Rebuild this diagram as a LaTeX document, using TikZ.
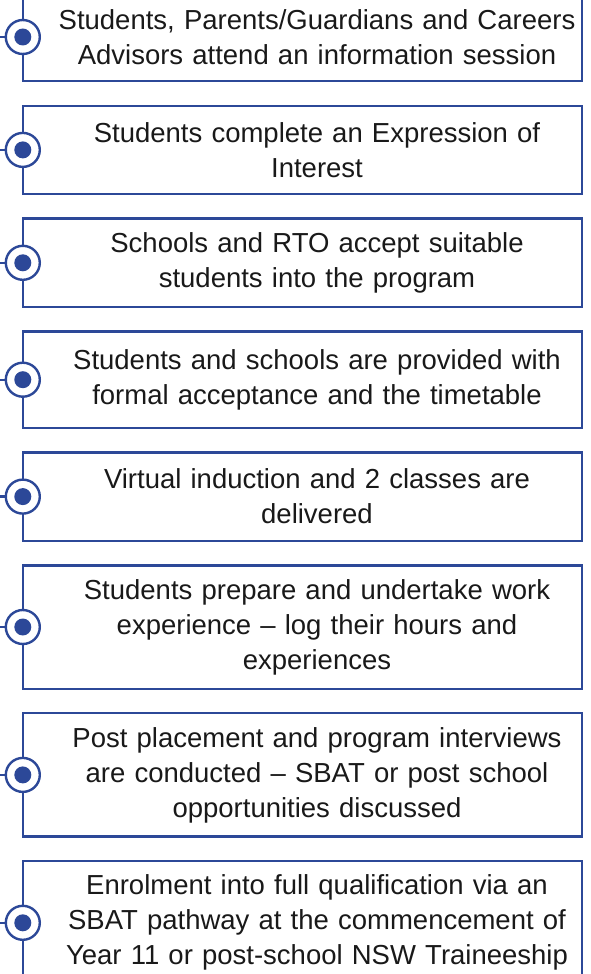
\documentclass[tikz,border=0pt]{standalone}
\usepackage{fontspec}
\setmainfont{Liberation Sans}
\usepackage{xcolor}
\usetikzlibrary{positioning}
\definecolor{stepblue}{RGB}{44,72,152}
\tikzset{
    stepbox/.style={text width=530pt,minimum height=88pt,inner sep=0pt,align=center,
        font=\fontsize{27.5}{35}\selectfont,text=black!90},
    frame/.style={draw=stepblue,line width=2.4pt},
    ring/.style={circle,draw=stepblue,fill=white,line width=2.4pt,minimum size=34pt,inner sep=0pt},
    dot/.style={circle,fill=stepblue,minimum size=17pt,inner sep=0pt}
}
\begin{document}
\begin{tikzpicture}
  \useasboundingbox (0pt,0pt) rectangle (590pt,-974pt);
  \node[stepbox] (s1) at (317pt,-37pt) {Students, Parents/Guardians and Careers\\Advisors attend an information session};
  \node[stepbox,below=24.5pt of s1] (s2) {Students complete an Expression of\\Interest};
  \node[stepbox,below=24.5pt of s2] (s3) {Schools and RTO accept suitable\\students into the program};
  \node[stepbox,minimum height=96pt,below=24.5pt of s3] (s4) {Students and schools are provided with\\formal acceptance and the timetable};
  \node[stepbox,below=24.5pt of s4] (s5) {Virtual induction and 2 classes are\\delivered};
  \node[stepbox,minimum height=123pt,below=24.5pt of s5] (s6) {Students prepare and undertake work\\experience -- log their hours and\\experiences};
  \node[stepbox,minimum height=123pt,below=24.5pt of s6] (s7) {Post placement and program interviews\\are conducted -- SBAT or post school\\opportunities discussed};
  \node[stepbox,minimum height=123pt,below=24.5pt of s7] (s8) {Enrolment into full qualification via an\\SBAT pathway at the commencement of\\Year 11 or post-school NSW Traineeship};
  % frames, rings and stubs
  \foreach \i in {1,...,8} {
    \draw[frame] ([xshift=-29pt]s\i.north west) rectangle (s\i.south east);
    \node[ring] (c\i) at ([xshift=-29pt]s\i.west) {};
    \node[dot] (d\i) at (c\i) {};
    \coordinate (e\i) at ([xshift=-8pt]c\i.west);
    \draw[frame] (e\i) -- (c\i.west);
  }
\end{tikzpicture}
\end{document}
